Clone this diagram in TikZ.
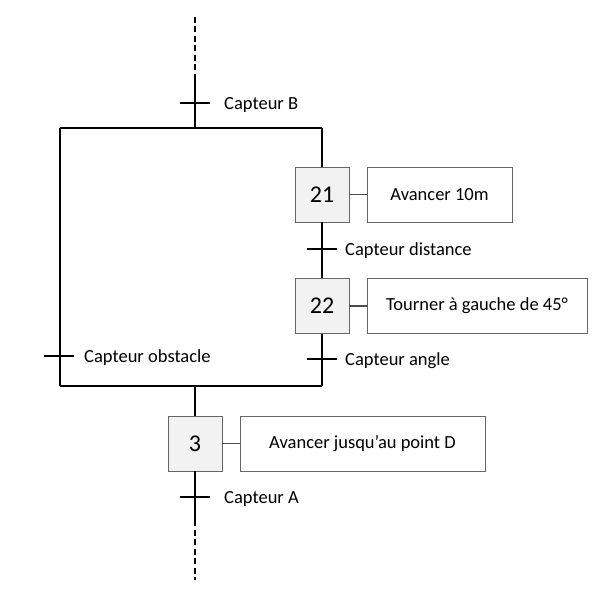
\documentclass[tikz,border=0pt]{standalone}
\usepackage{fontspec}
\setmainfont{Carlito}
\begin{document}
\begin{tikzpicture}[x=1pt,y=-1pt,
  flow/.style={line width=1.8pt,black},
  dashflow/.style={line width=1.8pt,black,dash pattern=on 6pt off 3.5pt},
  stepbox/.style={draw=black!60,line width=0.8pt,fill=black!5,minimum width=54pt,minimum height=55pt,inner sep=0pt,font=\fontsize{24}{26}\selectfont},
  actbox/.style={draw=black!60,line width=0.8pt,fill=white,minimum height=55pt,inner sep=0pt,font=\fontsize{18.5}{20}\selectfont},
  link/.style={line width=1.5pt,black!70},
  tick/.style={line width=1.5pt,black},
  lbl/.style={anchor=west,inner sep=0pt,yshift=-1.5pt,font=\fontsize{18.5}{20}\selectfont}]
\useasboundingbox (0,0) rectangle (615,593);
% nodes
\node[stepbox] (s21) at (322,194.5) {21};
\node[actbox,minimum width=145pt] (a21) at (439.5,194.5) {Avancer 10m};
\node[stepbox] (s22) at (322,306) {22};
\node[actbox,minimum width=220pt] (a22) at (477,306) {Tourner à gauche de 45°};
\node[stepbox] (s3) at (195,443.5) {3};
\node[actbox,minimum width=245pt] (a3) at (362.5,443.5) {Avancer jusqu’au point D};
% coordinates
\coordinate (topstart) at (195,17);
\coordinate (topdash) at (195,78);
\coordinate (topjoin) at (195,128);
\coordinate (tl) at (60,128);
\coordinate (tr) at (322,128);
\coordinate (bl) at (60,386);
\coordinate (br) at (322,386);
\coordinate (bjoin) at (195,386);
\coordinate (botdash) at (195,520);
\coordinate (botend) at (195,580);
% flow lines
\draw[dashflow] (topstart) -- (topdash);
\draw[flow] (topdash) -- (topjoin);
\draw[flow] (tl) -- (tr);
\draw[flow] (tr) -- (s21.north);
\draw[flow] (s21.south) -- (s22.north);
\draw[flow] (s22.south) -- (br);
\draw[flow] (tl) -- (bl);
\draw[flow] (bl) -- (br);
\draw[flow] (bjoin) -- (s3.north);
\draw[flow] (s3.south) -- (botdash);
\draw[dashflow] (botdash) -- (botend);
% action links
\draw[link] (s21.east) -- (a21.west);
\draw[link] (s22.east) -- (a22.west);
\draw[link] (s3.east) -- (a3.west);
% transitions
\coordinate (tB) at (195,103);
\draw[tick] ([xshift=-15pt]tB) -- ([xshift=15pt]tB);
\node[lbl] (lB) at (224,103) {Capteur B};
\coordinate (tD) at (322,249);
\draw[tick] ([xshift=-15pt]tD) -- ([xshift=15pt]tD);
\node[lbl] (lD) at (345,249) {Capteur distance};
\coordinate (tAn) at (322,359);
\draw[tick] ([xshift=-15pt]tAn) -- ([xshift=15pt]tAn);
\node[lbl] (lAn) at (345,359) {Capteur angle};
\coordinate (tO) at (59,356);
\draw[tick] ([xshift=-15pt]tO) -- ([xshift=15pt]tO);
\node[lbl] (lO) at (84,356) {Capteur obstacle};
\coordinate (tA) at (195,497);
\draw[tick] ([xshift=-15pt]tA) -- ([xshift=15pt]tA);
\node[lbl] (lA) at (224,497) {Capteur A};
\end{tikzpicture}
\end{document}
